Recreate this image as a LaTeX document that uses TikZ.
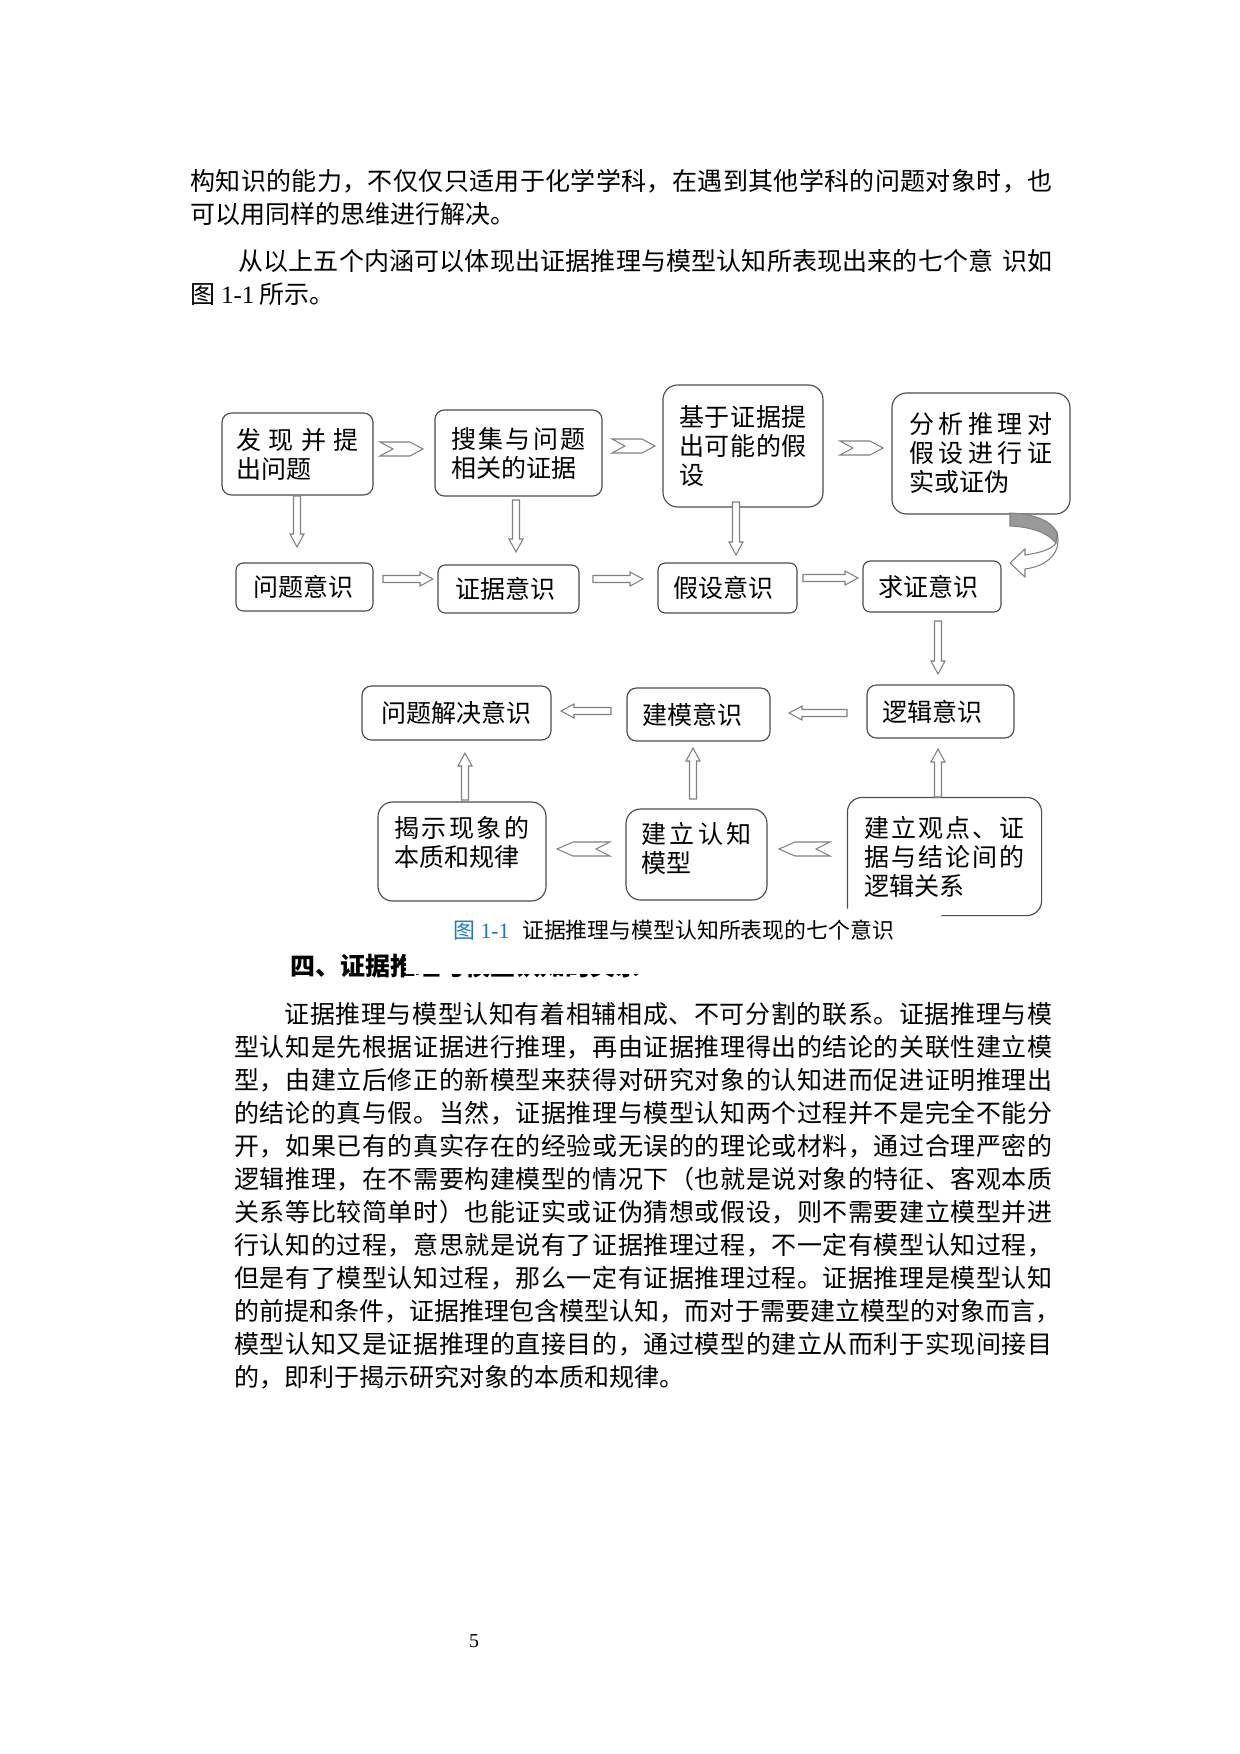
\documentclass[tikz,border=0pt]{standalone}
\usepackage{fontspec}
\setmainfont{Noto Sans CJK SC}
\newfontfamily\lat{Liberation Serif}
\usetikzlibrary{calc,fit}
\definecolor{capblue}{RGB}{31,120,200}
\newdimen\pxu \pxu=0.48pt
\def\endspread{ES}
\def\spreadfirst#1{#1\spreadrest}
\def\spreadrest#1{\ifx\endspread#1\else\hfill#1\expandafter\spreadrest\fi}
\newcommand\sline[2]{\makebox[#1\pxu][s]{\spreadfirst#2\endspread}}
\newcommand\tb[2]{\parbox{#1\pxu}{\fontsize{12pt}{13.92pt}\selectfont #2}}
% horizontal block arrow: tail x, tip x, y
\newcommand\harrow[3]{%
  \pgfmathsetmacro\arrHB{#2>#1 ? #2-13 : #2+13}%
  \draw[arrowshape] (#1,#3-3.5) -- (\arrHB,#3-3.5) -- (\arrHB,#3-7) -- (#2,#3)
     -- (\arrHB,#3+7) -- (\arrHB,#3+3.5) -- (#1,#3+3.5) -- cycle;}
% vertical block arrow: x, tail y, tip y
\newcommand\varrow[3]{%
  \pgfmathsetmacro\arrVB{#3>#2 ? #3-13 : #3+13}%
  \draw[arrowshape] (#1-3.5,#2) -- (#1-3.5,\arrVB) -- (#1-7,\arrVB) -- (#1,#3)
     -- (#1+7,\arrVB) -- (#1+3.5,\arrVB) -- (#1+3.5,#2) -- cycle;}
% chevron: back x, tip x, y, half height, tip depth, notch depth
\newcommand\chevron[6]{%
  \pgfmathsetmacro\chA{#2>#1 ? #2-#5 : #2+#5}%
  \pgfmathsetmacro\chB{#2>#1 ? #1+#6 : #1-#6}%
  \draw[arrowshape] (#1,#3-#4) -- (\chA,#3-#4) -- (#2,#3) -- (\chA,#3+#4)
     -- (#1,#3+#4) -- (\chB,#3) -- cycle;}
\begin{document}
\begin{tikzpicture}[x=0.48pt,y=-0.48pt,
  boxline/.style={draw=black!70, line width=0.55pt},
  box/.style={boxline, fill=white, rounded corners=4.5pt, inner sep=0pt},
  bigbox/.style={box, rounded corners=7pt},
  smallbox/.style={box, rounded corners=3.5pt},
  boxtext/.style={inner sep=0pt},
  arrowshape/.style={draw=black!50, line width=0.5pt, fill=white, line join=miter},
  bodytext/.style={anchor=west, inner sep=0pt, font=\fontsize{12pt}{14pt}\selectfont}]
\fill[white] (0,0) rectangle (1240,1754);
\useasboundingbox (0,0) rectangle (1240,1754);

% ---------- text above ----------
\node[bodytext] (p1l1) at (190,181) {\sline{862}{构知识的能力，不仅仅只适用于化学学科，在遇到其他学科的问题对象时，也}};
\node[bodytext] (p1l2) at (190,214) {可以用同样的思维进行解决。};
\node[bodytext] (p2l1) at (238,261) {\sline{814}{从以上五个内涵可以体现出证据推理与模型认知所表现出来的七个意{\hspace{4pt}}识如}};
\node[bodytext] (p2l2) at (190,294) {图 {\lat 1-1} 所示。};

% ---------- boxes ----------
\node[box, fit={(222,413) (373,495)}] (b1) {};
\node[box, fit={(435,410) (602,496)}] (b2) {};
\node[bigbox, fit={(663,385) (823,507)}] (b3) {};
\node[bigbox, fit={(892,393) (1070,514)}] (b4) {};
\node[smallbox, fit={(236,563) (373,611)}] (c1) {};
\node[smallbox, fit={(438,565) (579,613)}] (c2) {};
\node[smallbox, fit={(658,563) (797,613)}] (c3) {};
\node[smallbox, fit={(863,561) (1001,612)}] (c4) {};
\node[box, fit={(362,686) (551,740)}] (d1) {};
\node[box, fit={(627,688) (770,741)}] (d2) {};
\node[box, fit={(867,685) (1014,738)}] (d3) {};
\node[bigbox, fit={(378,802) (546,901)}] (e1) {};
\node[bigbox, fit={(626,809) (767,900)}] (e2) {};
\node[bigbox, draw=none, fit={(848,798) (1041,915)}] (e3) {};
\draw[boxline, rounded corners=7pt] ($(e3.south west)+(0,-7)$) -- (e3.north west)
   -- (e3.north east) -- (e3.south east) -- ($(e3.south west)+(94,0)$);

% ---------- box texts ----------
\node[boxtext] (b1t) at (b1.center) {\tb{123}{\sline{123}{发现并提}\\出问题}};
\node[boxtext] (b2t) at (b2.center) {\tb{135}{\sline{135}{搜集与问题}\\相关的证据}};
\node[boxtext] (b3t) at (b3.center) {\tb{128}{\sline{128}{基于证据提}\\\sline{128}{出可能的假}\\设}};
\node[boxtext] (b4t) at (b4.center) {\tb{143}{\sline{143}{分析推理对}\\\sline{143}{假设进行证}\\实或证伪}};
\node[boxtext] (c1t) at (c1.center) {\tb{103}{问题意识}};
\node[boxtext] (c2t) at (c2.center) {\tb{107}{证据意识}};
\node[boxtext] (c3t) at (c3.center) {\tb{109}{假设意识}};
\node[boxtext] (c4t) at (c4.center) {\tb{108}{求证意识}};
\node[boxtext] (d1t) at (d1.center) {\tb{151}{问题解决意识}};
\node[boxtext] (d2t) at (d2.center) {\tb{113}{建模意识}};
\node[boxtext] (d3t) at (d3.center) {\tb{117}{逻辑意识}};
\node[boxtext] (e1t) at ($(e1.center)+(0,-9)$) {\tb{135}{\sline{135}{揭示现象的}\\本质和规律}};
\node[boxtext] (e2t) at ($(e2.center)+(0,-6)$) {\tb{111}{\sline{111}{建立认知}\\模型}};
\node[boxtext] (e3t) at (e3.center) {\tb{160}{\sline{160}{建立观点、证}\\\sline{160}{据与结论间的}\\逻辑关系}};

% ---------- arrows ----------
\chevron{380}{423}{449}{7}{13}{13}
\chevron{612}{655}{446}{7}{13}{13}
\chevron{840}{883}{448}{7}{13}{13}
\varrow{297}{496}{547}
\varrow{516}{500}{552}
\varrow{736}{502}{555}
\harrow{383}{433}{579}
\harrow{593}{643}{579}
\harrow{803}{858}{578}
\varrow{938}{621}{674}
\harrow{611}{561}{711}
\harrow{847}{789}{713}
\varrow{465}{800}{753}
\varrow{693}{799}{748}
\varrow{938}{797}{749}
\chevron{610}{557}{849}{7}{16}{14}
\chevron{830}{779}{849}{7}{16}{14}

% curved arrow from b4 to c4
\draw[arrowshape] (1057,533) .. controls (1062,552) and (1048,566) .. (1025,569)
   -- (1025,577) -- (1010,563) -- (1025,549) -- (1025,555)
   .. controls (1040,553) and (1052,549) .. (1056,543) -- cycle;
\draw[arrowshape, fill=black!40] (1010,513) .. controls (1036,514) and (1053,522) .. (1057,533)
   -- (1056,543) .. controls (1048,533) and (1032,527) .. (1010,526) -- cycle;

% ---------- caption ----------
\node[anchor=west, inner sep=0pt, font=\fontsize{10.5pt}{12pt}\selectfont] (cap) at (453,930)
  {\textcolor{capblue}{图\hspace{2.5pt}{\lat 1-1}}\hspace{6pt}证据推理与模型认知所表现的七个意识};

% ---------- heading (partly hidden) ----------
\node[anchor=west, inner sep=0pt, font=\bfseries\fontsize{12pt}{14pt}\selectfont] (h4) at (290,966)
  {四、证据推理与模型认知的关系};
\fill[white] (406,950) rectangle (650,974);

% ---------- body ----------
\node[bodytext] (q1) at (284,1014) {\sline{768}{证据推理与模型认知有着相辅相成、不可分割的联系。证据推理与模}};
\node[bodytext] (q2) at (234,1047) {\sline{818}{型认知是先根据证据进行推理，再由证据推理得出的结论的关联性建立模}};
\node[bodytext] (q3) at (234,1080) {\sline{818}{型，由建立后修正的新模型来获得对研究对象的认知进而促进证明推理出}};
\node[bodytext] (q4) at (234,1113) {\sline{818}{的结论的真与假。当然，证据推理与模型认知两个过程并不是完全不能分}};
\node[bodytext] (q5) at (234,1146) {\sline{818}{开，如果已有的真实存在的经验或无误的的理论或材料，通过合理严密的}};
\node[bodytext] (q6) at (234,1179) {\sline{818}{逻辑推理，在不需要构建模型的情况下（也就是说对象的特征、客观本质}};
\node[bodytext] (q7) at (234,1212) {\sline{818}{关系等比较简单时）也能证实或证伪猜想或假设，则不需要建立模型并进}};
\node[bodytext] (q8) at (234,1245) {\sline{818}{行认知的过程，意思就是说有了证据推理过程，不一定有模型认知过程，}};
\node[bodytext] (q9) at (234,1278) {\sline{818}{但是有了模型认知过程，那么一定有证据推理过程。证据推理是模型认知}};
\node[bodytext] (q10) at (234,1311) {\sline{826}{的前提和条件，证据推理包含模型认知，而对于需要建立模型的对象而言，}};
\node[bodytext] (q11) at (234,1344) {\sline{818}{模型认知又是证据推理的直接目的，通过模型的建立从而利于实现间接目}};
\node[bodytext] (q12) at (234,1377) {的，即利于揭示研究对象的本质和规律。};

% ---------- page number ----------
\node[inner sep=0pt, font=\lat\fontsize{9.5pt}{11pt}\selectfont] (pg) at (474,1641) {5};
\end{tikzpicture}
\end{document}
